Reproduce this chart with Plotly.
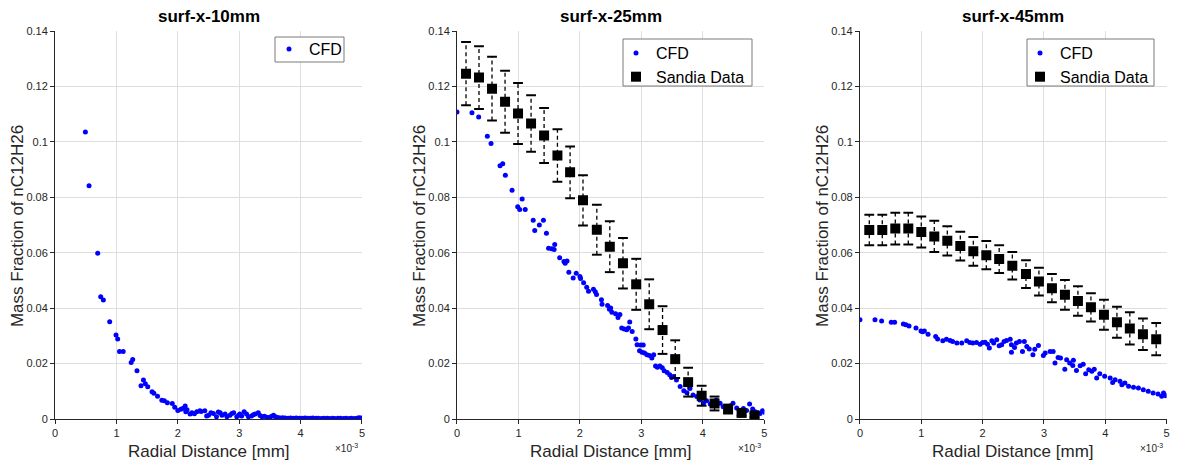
import plotly.graph_objects as go

# ---------------- data (radial distance in mm, mass fraction) ----------------
# surf-x-10mm, CFD
cfd10_r_mm = [0.494, 0.554, 0.695, 0.744, 0.787, 0.89, 0.993, 1.02, 1.05, 1.11,
              1.24, 1.265, 1.335, 1.40, 1.44, 1.47, 1.51, 1.58, 1.61, 1.67,
              1.74, 1.78, 1.83, 1.91, 1.95, 2.0, 2.05, 2.08, 2.12, 2.13, 2.15,
              2.2, 2.23, 2.27, 2.31, 2.36, 2.38, 2.44, 2.47, 2.5, 2.54, 2.58,
              2.63, 2.66, 2.69, 2.72, 2.77, 2.8, 2.85, 2.88, 2.91, 2.96, 2.99,
              3.01, 3.04, 3.08, 3.12, 3.15, 3.2, 3.23, 3.26, 3.31, 3.34, 3.37,
              3.41, 3.45, 3.5, 3.53, 3.56, 3.58, 3.61, 3.64, 3.67, 3.71, 3.75,
              3.8, 3.84, 3.89, 3.93, 3.98, 4.02, 4.07, 4.11, 4.16, 4.2, 4.25,
              4.29, 4.34, 4.38, 4.43, 4.47, 4.52, 4.56, 4.61, 4.65, 4.7, 4.74,
              4.79, 4.83, 4.88, 4.92, 4.95, 4.98, 5.0]
cfd10_y = [0.1036, 0.0842, 0.0598, 0.0441, 0.0429, 0.0351, 0.0303, 0.0289, 0.0244, 0.0244,
           0.0204, 0.0215, 0.0174, 0.0120, 0.0141, 0.0127, 0.0116, 0.0098, 0.0093, 0.0082,
           0.0068, 0.0066, 0.0059, 0.0056, 0.0042, 0.0031, 0.0035, 0.0038, 0.0047, 0.0026, 0.0033,
           0.0018, 0.0023, 0.0019, 0.0026, 0.0030, 0.0027, 0.0030, 0.0011, 0.0014, 0.0023, 0.0020,
           0.0008, 0.0025, 0.0023, 0.0014, 0.0018, 0.0008, 0.0014, 0.0020, 0.0023, 0.0008, 0.0014,
           0.0018, 0.0011, 0.0026, 0.0018, 0.0008, 0.0011, 0.0015, 0.0018, 0.0023, 0.0013, 0.0008,
           0.0010, 0.0006, 0.0006, 0.0010, 0.0014, 0.0009, 0.0006, 0.0005, 0.0004, 0.0005, 0.0004,
           0.0003, 0.0004, 0.0003, 0.0004, 0.0003, 0.0003, 0.0004, 0.0003, 0.0003, 0.0004, 0.0003,
           0.0003, 0.0002, 0.0003, 0.0003, 0.0002, 0.0003, 0.0002, 0.0003, 0.0003, 0.0002, 0.0003,
           0.0002, 0.0003, 0.0002, 0.0003, 0.0005, 0.0004, 0.0003]

# surf-x-25mm, CFD
cfd25_r_mm = [0.0, 0.244, 0.353, 0.494, 0.554, 0.70, 0.744, 0.787, 0.896, 0.988,
              1.02, 1.06, 1.11, 1.24, 1.265, 1.34, 1.406, 1.455, 1.49, 1.54,
              1.58, 1.59, 1.67, 1.74, 1.76, 1.79, 1.82, 1.89, 1.94, 2.0, 2.01,
              2.06, 2.11, 2.14, 2.22, 2.25, 2.27, 2.35, 2.36, 2.45, 2.48, 2.5,
              2.52, 2.58, 2.62, 2.65, 2.68, 2.72, 2.76, 2.79, 2.81, 2.85, 2.91,
              2.93, 2.97, 2.99, 3.01, 3.03, 3.05, 3.09, 3.13, 3.17, 3.2, 3.23,
              3.26, 3.3, 3.34, 3.37, 3.42, 3.46, 3.49, 3.52, 3.57, 3.63, 3.69,
              3.74, 3.79, 3.84, 3.9, 3.95, 4.01, 4.06, 4.12, 4.17, 4.22, 4.28,
              4.33, 4.39, 4.44, 4.49, 4.55, 4.6, 4.66, 4.71, 4.76, 4.81, 4.85,
              4.9, 4.93, 4.97, 5.0]
cfd25_y = [0.1108, 0.1105, 0.1090, 0.1020, 0.0994, 0.0914, 0.0921, 0.0880, 0.0825, 0.0766,
           0.0756, 0.0794, 0.0756, 0.0717, 0.0680, 0.0700, 0.0717, 0.0670, 0.0616, 0.0614,
           0.0612, 0.0630, 0.0582, 0.0568, 0.0562, 0.0570, 0.0530, 0.0509, 0.0526, 0.0514, 0.0507,
           0.0492, 0.0475, 0.0461, 0.0468, 0.0459, 0.0449, 0.0430, 0.0414, 0.0410, 0.0396, 0.0401,
           0.0385, 0.0380, 0.0366, 0.0377, 0.0328, 0.0325, 0.0322, 0.0328, 0.0350, 0.0316, 0.0289,
           0.0268, 0.0246, 0.0267, 0.0241, 0.0267, 0.0238, 0.0232, 0.0229, 0.0220, 0.0232, 0.0191,
           0.0187, 0.0191, 0.0185, 0.0174, 0.0168, 0.0160, 0.0150, 0.0153, 0.0141, 0.0117, 0.0102,
           0.0095, 0.0110, 0.0087, 0.0081, 0.0069, 0.0057, 0.0066, 0.0054, 0.0062, 0.0069, 0.0057,
           0.0044, 0.0032, 0.0047, 0.0057, 0.0040, 0.0030, 0.0038, 0.0031, 0.0054, 0.0036, 0.0026,
           0.0022, 0.0020, 0.0030, 0.0024]

# surf-x-25mm, Sandia measurements with error half-widths
sandia25_r_mm = [0.147, 0.358, 0.57, 0.782, 0.993, 1.205, 1.417, 1.634, 1.84, 2.05,
                 2.275, 2.486, 2.70, 2.915, 3.127, 3.344, 3.55, 3.76, 3.98, 4.19,
                 4.41, 4.63, 4.84]
sandia25_y = [0.1246, 0.1232, 0.1192, 0.1145, 0.1102, 0.1066, 0.1023, 0.0951, 0.0890, 0.0789,
              0.0683, 0.0622, 0.0562, 0.0486, 0.0414, 0.0321, 0.0216, 0.0133, 0.0084, 0.0056,
              0.0036, 0.0022, 0.0013]
sandia25_err = [0.0114, 0.0113, 0.0115, 0.0112, 0.0110, 0.0102, 0.0099, 0.0095, 0.0093, 0.0091,
                0.0090, 0.0092, 0.0091, 0.0092, 0.0090, 0.0086, 0.0068, 0.0052, 0.0036, 0.0025,
                0.0016, 0.0010, 0.0007]

# surf-x-45mm, CFD
cfd45_r_mm = [0.0, 0.245, 0.353, 0.51, 0.565, 0.707, 0.75, 0.80, 0.913, 0.995,
              1.02, 1.05, 1.11, 1.234, 1.266, 1.35, 1.41, 1.47, 1.51, 1.58,
              1.66, 1.74, 1.79, 1.84, 1.9, 1.96, 2.0, 2.04, 2.08, 2.11,
              2.15, 2.18, 2.23, 2.27, 2.31, 2.35, 2.39, 2.45, 2.47, 2.47,
              2.52, 2.55, 2.6, 2.65, 2.68, 2.72, 2.76, 2.82, 2.85, 2.91,
              2.99, 3.02, 3.1, 3.15, 3.18, 3.23, 3.27, 3.34, 3.37, 3.42,
              3.47, 3.48, 3.53, 3.59, 3.64, 3.68, 3.73, 3.78, 3.82, 3.86,
              3.91, 3.99, 4.08, 4.12, 4.16, 4.24, 4.27, 4.32, 4.38, 4.46,
              4.54, 4.62, 4.7, 4.78, 4.86, 4.92, 4.95, 4.99]
cfd45_y = [0.0358, 0.0358, 0.0354, 0.0349, 0.0349, 0.0343, 0.0340, 0.0336, 0.0328, 0.0318,
           0.0315, 0.0318, 0.0306, 0.0298, 0.0289, 0.0282, 0.0288, 0.0283, 0.0280, 0.0274,
           0.0274, 0.0282, 0.0276, 0.0274, 0.0276, 0.0270, 0.0276, 0.0277, 0.0270, 0.0256,
           0.0282, 0.0274, 0.0286, 0.0264, 0.0268, 0.0280, 0.0283, 0.0288, 0.0268, 0.0241,
           0.0258, 0.0274, 0.0280, 0.0244, 0.0280, 0.0262, 0.0253, 0.0232, 0.0252, 0.0265,
           0.0229, 0.0238, 0.0244, 0.0244, 0.0202, 0.0222, 0.0220, 0.0180, 0.0214, 0.0202,
           0.0193, 0.0212, 0.0175, 0.0192, 0.0198, 0.0163, 0.0178, 0.0172, 0.0180, 0.0148,
           0.0163, 0.0154, 0.0148, 0.0132, 0.0142, 0.0136, 0.0124, 0.0130, 0.0118, 0.0115,
           0.0112, 0.0106, 0.0100, 0.0094, 0.0090, 0.0082, 0.0094, 0.0084]

# surf-x-45mm, Sandia measurements with error half-widths
sandia45_r_mm = [0.152, 0.364, 0.576, 0.788, 1.0, 1.212, 1.424, 1.636, 1.848, 2.06,
                 2.27, 2.484, 2.707, 2.918, 3.13, 3.342, 3.554, 3.766, 3.978, 4.19,
                 4.40, 4.614, 4.83]
sandia45_y = [0.0682, 0.0682, 0.0687, 0.0687, 0.0675, 0.0659, 0.0643, 0.0624, 0.0605, 0.0591,
              0.0577, 0.0553, 0.0523, 0.0496, 0.0472, 0.0448, 0.0426, 0.0403, 0.0376, 0.0349,
              0.0327, 0.0306, 0.0288]
sandia45_err = [0.0055, 0.0055, 0.0057, 0.0057, 0.0056, 0.0056, 0.0053, 0.0052, 0.0052, 0.0051,
                0.0050, 0.0050, 0.0050, 0.0050, 0.0051, 0.0054, 0.0053, 0.0051, 0.0054, 0.0056,
                0.0058, 0.0057, 0.0058]

titles = ["surf-x-10mm", "surf-x-25mm", "surf-x-45mm"]
x_ticks_mm = [0, 1, 2, 3, 4, 5]
y_ticks = [0, 0.02, 0.04, 0.06, 0.08, 0.1, 0.12, 0.14]
y_tick_text = ["0", "0.02", "0.04", "0.06", "0.08", "0.1", "0.12", "0.14"]

# ---------------- styling ----------------
FONT = "Liberation Sans, Arial, sans-serif"
AX_COLOR = "#262626"
GRID = "#dedede"
BLUE = "#0000ff"
W, H = 1179, 463

x_domains = [[0.0467, 0.3070], [0.3876, 0.6483], [0.7294, 0.9895]]
y_domain = [0.095, 0.933]
# legend frames (pixel boxes: left, right, top, bottom) and entry anchor (left, top)
legend_boxes = [(275, 344, 37, 62), (623, 752, 39, 86), (1027, 1154, 39, 86)]
legend_anchor = [(269, 32), (616, 36), (1020, 36)]

fig = go.Figure()


def to_m(vals_mm):
    return [v * 1e-3 for v in vals_mm]


def add_cfd(idx, r_mm, y):
    s = "" if idx == 1 else str(idx)
    fig.add_trace(go.Scatter(
        x=to_m(r_mm), y=y, mode="markers", name="CFD",
        marker=dict(color=BLUE, size=5, line=dict(width=0)),
        xaxis=f"x{s}", yaxis=f"y{s}", legend=f"legend{s}", showlegend=True))


def add_sandia(idx, r_mm, y, err):
    xa, ya, lg = f"x{idx}", f"y{idx}", f"legend{idx}"
    r_m = to_m(r_mm)
    # dashed vertical error segments
    xs, ys = [], []
    for xv, yv, ev in zip(r_m, y, err):
        xs += [xv, xv, None]
        ys += [yv - ev, yv + ev, None]
    fig.add_trace(go.Scatter(x=xs, y=ys, mode="lines",
                             line=dict(color="black", width=1.3, dash="4px,3px"),
                             xaxis=xa, yaxis=ya, showlegend=False, hoverinfo="skip"))
    # caps
    cap_x = r_m + r_m
    cap_y = [yv - ev for yv, ev in zip(y, err)] + [yv + ev for yv, ev in zip(y, err)]
    fig.add_trace(go.Scatter(x=cap_x, y=cap_y, mode="markers",
                             marker=dict(symbol="line-ew", size=7,
                                         line=dict(color="black", width=2)),
                             xaxis=xa, yaxis=ya, showlegend=False, hoverinfo="skip"))
    # data squares
    fig.add_trace(go.Scatter(x=r_m, y=y, mode="markers", name="Sandia Data",
                             marker=dict(symbol="square", size=10, color="black",
                                         line=dict(width=0)),
                             xaxis=xa, yaxis=ya, legend=lg))


add_cfd(1, cfd10_r_mm, cfd10_y)
add_cfd(2, cfd25_r_mm, cfd25_y)
add_sandia(2, sandia25_r_mm, sandia25_y, sandia25_err)
add_cfd(3, cfd45_r_mm, cfd45_y)
add_sandia(3, sandia45_r_mm, sandia45_y, sandia45_err)

layout = dict(
    width=W, height=H, autosize=False,
    margin=dict(l=0, r=0, t=0, b=0, pad=0, autoexpand=False),
    paper_bgcolor="white", plot_bgcolor="white",
    font=dict(family=FONT, color=AX_COLOR),
    showlegend=True,
    annotations=[],
    shapes=[],
)

for i in range(3):
    s = "" if i == 0 else str(i + 1)
    common = dict(
        showgrid=True, gridcolor=GRID, gridwidth=1, zeroline=False,
        showline=True, linecolor=AX_COLOR, linewidth=1,
        ticks="outside", ticklen=4, tickcolor=AX_COLOR, automargin=False,
        tickfont=dict(size=11, color=AX_COLOR, family=FONT), fixedrange=True)
    layout[f"xaxis{s}"] = dict(
        domain=x_domains[i], anchor=f"y{s}", range=[0, 0.005],
        tickvals=[t * 1e-3 for t in x_ticks_mm], ticktext=[str(t) for t in x_ticks_mm],
        **common)
    layout[f"yaxis{s}"] = dict(
        domain=y_domain, anchor=f"x{s}", range=[0, 0.14],
        tickvals=y_ticks, ticktext=y_tick_text, **common)

    # legend frame drawn as a white box over the grid
    bl, br, bt, bb = legend_boxes[i]
    layout["shapes"].append(dict(
        type="rect", xref="paper", yref="paper", layer="above",
        x0=bl / W, x1=br / W, y0=1 - bb / H, y1=1 - bt / H,
        fillcolor="white", line=dict(color="#7a7a7a", width=1)))
    lx, ly = legend_anchor[i]
    layout[f"legend{s}"] = dict(
        x=lx / W, y=1 - ly / H, xanchor="left", yanchor="top",
        xref="paper", yref="paper",
        bgcolor="rgba(0,0,0,0)", borderwidth=0,
        font=dict(size=16, color="black", family=FONT),
        itemwidth=30, tracegroupgap=0)

    x0, x1 = x_domains[i]
    xc = (x0 + x1) / 2
    px_left = x0 * W
    px_right = x1 * W
    # panel title
    layout["annotations"].append(dict(
        text=f"<b>{titles[i]}</b>", x=xc, y=1 - 17 / H, xref="paper", yref="paper",
        showarrow=False, xanchor="center", yanchor="middle",
        font=dict(size=17, color="black", family=FONT)))
    # x axis title
    layout["annotations"].append(dict(
        text="Radial Distance [mm]", x=xc, y=1 - 451 / H, xref="paper", yref="paper",
        showarrow=False, xanchor="center", yanchor="middle",
        font=dict(size=17, color=AX_COLOR, family=FONT)))
    # y axis title
    layout["annotations"].append(dict(
        text="Mass Fraction of nC12H26", x=(px_left - 38) / W, y=1 - 226 / H,
        xref="paper", yref="paper", textangle=-90,
        showarrow=False, xanchor="center", yanchor="middle",
        font=dict(size=17, color=AX_COLOR, family=FONT)))
    # exponent label
    layout["annotations"].append(dict(
        text="×10<sup>-3</sup>", x=(px_right - 15) / W, y=1 - 448 / H,
        xref="paper", yref="paper",
        showarrow=False, xanchor="center", yanchor="middle",
        font=dict(size=10, color=AX_COLOR, family=FONT)))

fig.update_layout(**layout)
fig.write_html("out.html")
